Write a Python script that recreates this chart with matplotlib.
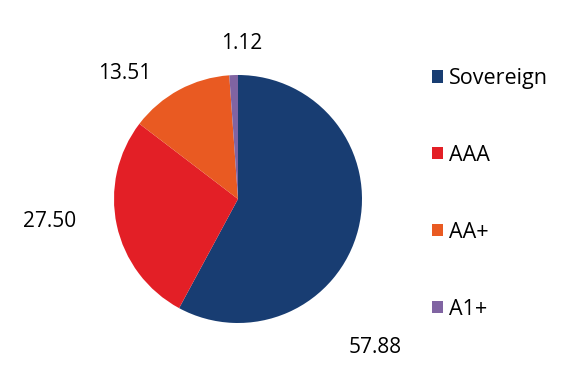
import matplotlib.pyplot as plt
from matplotlib.patches import Patch

plt.rcParams['font.family'] = ['Open Sans', 'DejaVu Sans']

# Data
categories = ['Sovereign', 'AAA', 'AA+', 'A1+']
values = [57.88, 27.50, 13.51, 1.12]
colors = ['#183D72', '#E31F26', '#E95A22', '#8064A2']

# label positions in pie units (radius = 1)
label_pos = [(1.105, -1.20), (-1.516, -0.185), (-0.911, 1.016), (0.032, 1.258)]

fig = plt.figure(figsize=(5.76, 3.8), dpi=100)
ax = fig.add_axes([0, 0, 1, 1])

ax.pie(values, colors=colors, startangle=90, counterclock=False,
       radius=1.0, center=(0, 0))

for v, (x, y) in zip(values, label_pos):
    ax.text(x, y, f"{v:.2f}", ha='center', va='center', fontsize=15, color='#000000')

ax.set_xlim(-238 / 124, (576 - 238) / 124)
ax.set_ylim(-(380 - 199) / 124, 199 / 124)
ax.set_aspect('auto')
ax.axis('off')

handles = [Patch(facecolor=c, edgecolor='none') for c in colors]
fig.legend(handles, categories, loc='upper left', bbox_to_anchor=(0.717, 0.872),
           frameon=False, fontsize=15.5, labelspacing=2.6,
           handlelength=0.5, handleheight=0.5, handletextpad=0.25)

fig.savefig('out.png', dpi=100)
